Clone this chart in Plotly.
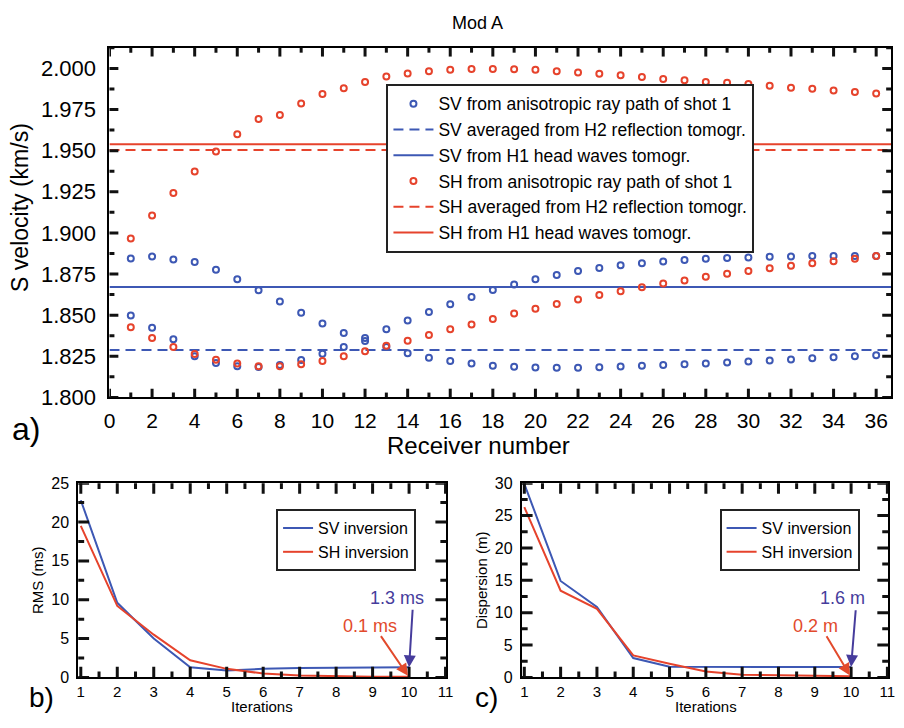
import plotly.graph_objects as go

# ---------------- data ----------------
receivers = list(range(1, 37))
sv_upper = [1.8844, 1.8857, 1.8838, 1.8823, 1.8776, 1.8719, 1.8652, 1.8583, 1.8515, 1.8450,
            1.8392, 1.8362, 1.8414, 1.8467, 1.8519, 1.8567, 1.8611, 1.8653, 1.8686, 1.8719,
            1.8744, 1.8768, 1.8787, 1.8803, 1.8816, 1.8826, 1.8836, 1.8843, 1.8847, 1.8851,
            1.8855, 1.8857, 1.8859, 1.8859, 1.8859, 1.8859]
sv_lower = [1.8498, 1.8423, 1.8354, 1.8250, 1.8210, 1.8189, 1.8185, 1.8197, 1.8227, 1.8266,
            1.8306, 1.8343, 1.8306, 1.8268, 1.8241, 1.8222, 1.8206, 1.8193, 1.8186, 1.8182,
            1.8180, 1.8180, 1.8184, 1.8188, 1.8192, 1.8197, 1.8201, 1.8207, 1.8213, 1.8219,
            1.8225, 1.8230, 1.8238, 1.8244, 1.8250, 1.8256]
sh_upper = [1.8966, 1.9106, 1.9242, 1.9373, 1.9495, 1.9600, 1.9693, 1.9717, 1.9787, 1.9845,
            1.9880, 1.9918, 1.9950, 1.9969, 1.9983, 1.9991, 1.9997, 1.9997, 1.9994, 1.9991,
            1.9983, 1.9975, 1.9967, 1.9959, 1.9948, 1.9936, 1.9928, 1.9918, 1.9913, 1.9905,
            1.9895, 1.9883, 1.9876, 1.9866, 1.9857, 1.9848]
sh_lower = [1.8427, 1.8362, 1.8306, 1.8264, 1.8229, 1.8206, 1.8189, 1.8189, 1.8202, 1.8222,
            1.8250, 1.8281, 1.8314, 1.8344, 1.8379, 1.8414, 1.8444, 1.8477, 1.8510, 1.8539,
            1.8568, 1.8595, 1.8622, 1.8646, 1.8669, 1.8692, 1.8711, 1.8733, 1.8752, 1.8768,
            1.8785, 1.8801, 1.8816, 1.8828, 1.8843, 1.8859]
sv_h2_avg = 1.8289
sv_h1_head = 1.8671
sh_h2_avg = 1.9504
sh_h1_head = 1.9539

iterations = list(range(1, 11))
rms_sv = [22.8, 9.6, 5.0, 1.3, 0.9, 1.1, 1.2, 1.25, 1.3, 1.3]
rms_sh = [19.5, 9.2, 5.5, 2.2, 1.1, 0.5, 0.25, 0.15, 0.1, 0.1]
disp_sv = [29.9, 14.9, 10.9, 3.0, 1.65, 1.6, 1.6, 1.6, 1.6, 1.6]
disp_sh = [26.3, 13.4, 10.6, 3.4, 2.1, 0.9, 0.4, 0.3, 0.2, 0.2]

# tick values (major / minor)
a_x_major = [0, 2, 4, 6, 8, 10, 12, 14, 16, 18, 20, 22, 24, 26, 28, 30, 32, 34, 36]
a_x_minor = [1, 3, 5, 7, 9, 11, 13, 15, 17, 19, 21, 23, 25, 27, 29, 31, 33, 35]
a_y_major = [1.800, 1.825, 1.850, 1.875, 1.900, 1.925, 1.950, 1.975, 2.000]
a_y_minor = [1.8125, 1.8375, 1.8625, 1.8875, 1.9125, 1.9375, 1.9625, 1.9875, 2.0125]
it_x_major = [1, 2, 3, 4, 5, 6, 7, 8, 9, 10, 11]
it_x_minor = [1.5, 2.5, 3.5, 4.5, 5.5, 6.5, 7.5, 8.5, 9.5, 10.5]
rms_y_major = [0, 5, 10, 15, 20, 25]
rms_y_minor = [2.5, 7.5, 12.5, 17.5, 22.5]
disp_y_major = [0, 5, 10, 15, 20, 25, 30]
disp_y_minor = [2.5, 7.5, 12.5, 17.5, 22.5, 27.5]

BLUE = "#3d58b4"
RED = "#e6432c"
ANN_BLUE = "#463c9c"
ANN_RED = "#e24a2c"
FONT = "Liberation Sans"

fig = go.Figure()

# ---------- panel a ----------
xr = [0, 36.7]
mk = dict(symbol="circle-open", size=6, line=dict(width=2))
fig.add_trace(go.Scatter(x=receivers + receivers, y=sv_upper + sv_lower, mode="markers",
                         marker=dict(color=BLUE, **mk),
                         name="SV from anisotropic ray path of shot 1", legend="legend"))
fig.add_trace(go.Scatter(x=xr, y=[sv_h2_avg, sv_h2_avg], mode="lines",
                         line=dict(color=BLUE, width=2, dash="10px,6px"),
                         name="SV averaged from H2 reflection tomogr.", legend="legend"))
fig.add_trace(go.Scatter(x=xr, y=[sv_h1_head, sv_h1_head], mode="lines",
                         line=dict(color=BLUE, width=2),
                         name="SV from H1 head waves tomogr.", legend="legend"))
fig.add_trace(go.Scatter(x=receivers + receivers, y=sh_upper + sh_lower, mode="markers",
                         marker=dict(color=RED, **mk),
                         name="SH from anisotropic ray path of shot 1", legend="legend"))
fig.add_trace(go.Scatter(x=xr, y=[sh_h2_avg, sh_h2_avg], mode="lines",
                         line=dict(color=RED, width=2, dash="10px,6px"),
                         name="SH averaged from H2 reflection tomogr.", legend="legend"))
fig.add_trace(go.Scatter(x=xr, y=[sh_h1_head, sh_h1_head], mode="lines",
                         line=dict(color=RED, width=2),
                         name="SH from H1 head waves tomogr.", legend="legend"))

# ---------- panel b ----------
fig.add_trace(go.Scatter(x=iterations, y=rms_sv, mode="lines", line=dict(color=BLUE, width=2),
                         name="SV inversion", xaxis="x2", yaxis="y2", legend="legend2"))
fig.add_trace(go.Scatter(x=iterations, y=rms_sh, mode="lines", line=dict(color=RED, width=2),
                         name="SH inversion", xaxis="x2", yaxis="y2", legend="legend2"))

# ---------- panel c ----------
fig.add_trace(go.Scatter(x=iterations, y=disp_sv, mode="lines", line=dict(color=BLUE, width=2),
                         name="SV inversion", xaxis="x3", yaxis="y3", legend="legend3"))
fig.add_trace(go.Scatter(x=iterations, y=disp_sh, mode="lines", line=dict(color=RED, width=2),
                         name="SH inversion", xaxis="x3", yaxis="y3", legend="legend3"))

W, H = 904, 728
def px(x):
    return x / W
def py(y):
    return 1 - y / H

A_DOM_X = [px(105), px(898)]
A_DOM_Y = [py(401), py(41)]
B_DOM_X = [px(73.3), px(446.7)]
C_DOM_X = [px(523.3), px(895)]
BC_DOM_Y = [py(689.3), py(489.3)]


def axis(domain, rng, tickvals, fsize, anchor, labstand, **extra):
    d = dict(domain=domain, range=rng, tickmode="array", tickvals=tickvals,
             showline=True, linecolor="black", linewidth=2, mirror=True, ticks="",
             showgrid=False, zeroline=False, ticklabelstandoff=labstand,
             tickfont=dict(family=FONT, size=fsize, color="black"), anchor=anchor)
    d.update(extra)
    return d


fig.update_layout(
    width=W, height=H, margin=dict(l=0, r=0, t=0, b=0),
    paper_bgcolor="white", plot_bgcolor="white",
    font=dict(family=FONT, color="black"),
    xaxis=axis(A_DOM_X, xr, a_x_major, 21, "y", 3),
    yaxis=axis(A_DOM_Y, [1.8, 2.0125], a_y_major, 22, "x", 7, tickformat=".3f"),
    xaxis2=axis(B_DOM_X, [0.93, 11.02], it_x_major, 15, "y2", 0),
    yaxis2=axis(BC_DOM_Y, [0, 25], rms_y_major, 16, "x2", 4,
                title=dict(text="RMS (ms)", font=dict(family=FONT, size=15), standoff=4)),
    xaxis3=axis(C_DOM_X, [0.93, 11.02], it_x_major, 15, "y3", 0),
    yaxis3=axis(BC_DOM_Y, [0, 30], disp_y_major, 16, "x3", 4,
                title=dict(text="Dispersion (m)", font=dict(family=FONT, size=15), standoff=4)),
    legend=dict(x=px(386), y=py(78), xanchor="left", yanchor="top", bgcolor="white",
                bordercolor="#222", borderwidth=2, font=dict(family=FONT, size=17.5),
                itemwidth=40),
    legend2=dict(x=px(274), y=py(516), xanchor="left", yanchor="top", bgcolor="white",
                 bordercolor="#222", borderwidth=2, font=dict(family=FONT, size=16)),
    legend3=dict(x=px(724), y=py(516), xanchor="left", yanchor="top", bgcolor="white",
                 bordercolor="#222", borderwidth=2, font=dict(family=FONT, size=16)),
    showlegend=True,
)

# ---------- inside tick marks (from the tick value lists) ----------
shapes = []
TICK = dict(color="#111111", width=3)

def xticks(xa, ya, vals, length, dom_h):
    f = length / dom_h
    for t in vals:
        shapes.append(dict(type="line", xref=xa, yref=ya + " domain", x0=t, x1=t, y0=0, y1=f,
                           line=TICK, layer="above"))
        shapes.append(dict(type="line", xref=xa, yref=ya + " domain", x0=t, x1=t, y0=1, y1=1 - f,
                           line=TICK, layer="above"))

def yticks(xa, ya, vals, length, dom_w):
    f = length / dom_w
    for t in vals:
        shapes.append(dict(type="line", xref=xa + " domain", yref=ya, x0=0, x1=f, y0=t, y1=t,
                           line=TICK, layer="above"))
        shapes.append(dict(type="line", xref=xa + " domain", yref=ya, x0=1, x1=1 - f, y0=t, y1=t,
                           line=TICK, layer="above"))

a_w, a_h = 793, 360
bc_w, bc_h = 373, 200
xticks("x", "y", a_x_major, 9, a_h)
xticks("x", "y", a_x_minor, 5, a_h)
yticks("x", "y", a_y_major, 9, a_w)
yticks("x", "y", a_y_minor, 5, a_w)
xticks("x2", "y2", it_x_major, 11, bc_h)
xticks("x2", "y2", it_x_minor, 6, bc_h)
yticks("x2", "y2", rms_y_major, 11, bc_w)
yticks("x2", "y2", rms_y_minor, 6, bc_w)
xticks("x3", "y3", it_x_major, 11, bc_h)
xticks("x3", "y3", it_x_minor, 6, bc_h)
yticks("x3", "y3", disp_y_major, 11, bc_w)
yticks("x3", "y3", disp_y_minor, 6, bc_w)
fig.update_layout(shapes=shapes)

ann = []
def ptext(t, x, y, size, **kw):
    ann.append(dict(text=t, x=px(x), y=py(y), xref="paper", yref="paper", xanchor="center",
                    yanchor="middle", showarrow=False, font=dict(size=size, family=FONT, color="black"), **kw))

ptext("Mod A", 478, 15, 18)
ptext("Receiver number", 479, 451, 24)
ptext("S velocity (km/s)", 14, 205, 23, textangle=-90)
ptext("Iterations", 260, 719, 15)
ptext("Iterations", 710, 719, 15)
ptext("a)", 20, 433, 32)
ptext("b)", 36, 710, 28)
ptext("c)", 488, 710, 28)

# panel b annotations
ann.append(dict(text="1.3 ms", x=9.67, y=10.2, xref="x2", yref="y2", showarrow=False,
                font=dict(size=18, color=ANN_BLUE, family=FONT)))
ann.append(dict(text="0.1 ms", x=8.94, y=6.66, xref="x2", yref="y2", showarrow=False,
                font=dict(size=18, color=ANN_RED, family=FONT)))
ann.append(dict(x=10, y=1.3, ax=10.1, ay=8.9, xref="x2", yref="y2", axref="x2", ayref="y2",
                showarrow=True, arrowhead=2, arrowsize=1.2, arrowwidth=2, arrowcolor=ANN_BLUE, text=""))
ann.append(dict(x=9.97, y=0.2, ax=9.2, ay=5.5, xref="x2", yref="y2", axref="x2", ayref="y2",
                showarrow=True, arrowhead=2, arrowsize=1.2, arrowwidth=2, arrowcolor=ANN_RED, text=""))
# panel c annotations
ann.append(dict(text="1.6 m", x=9.75, y=12.2, xref="x3", yref="y3", showarrow=False,
                font=dict(size=18, color=ANN_BLUE, family=FONT)))
ann.append(dict(text="0.2 m", x=9.02, y=8.0, xref="x3", yref="y3", showarrow=False,
                font=dict(size=18, color=ANN_RED, family=FONT)))
ann.append(dict(x=10, y=1.6, ax=10.13, ay=10.6, xref="x3", yref="y3", axref="x3", ayref="y3",
                showarrow=True, arrowhead=2, arrowsize=1.2, arrowwidth=2, arrowcolor=ANN_BLUE, text=""))
ann.append(dict(x=9.97, y=0.3, ax=9.3, ay=6.6, xref="x3", yref="y3", axref="x3", ayref="y3",
                showarrow=True, arrowhead=2, arrowsize=1.2, arrowwidth=2, arrowcolor=ANN_RED, text=""))
fig.update_layout(annotations=ann)

fig.write_html("out.html")
